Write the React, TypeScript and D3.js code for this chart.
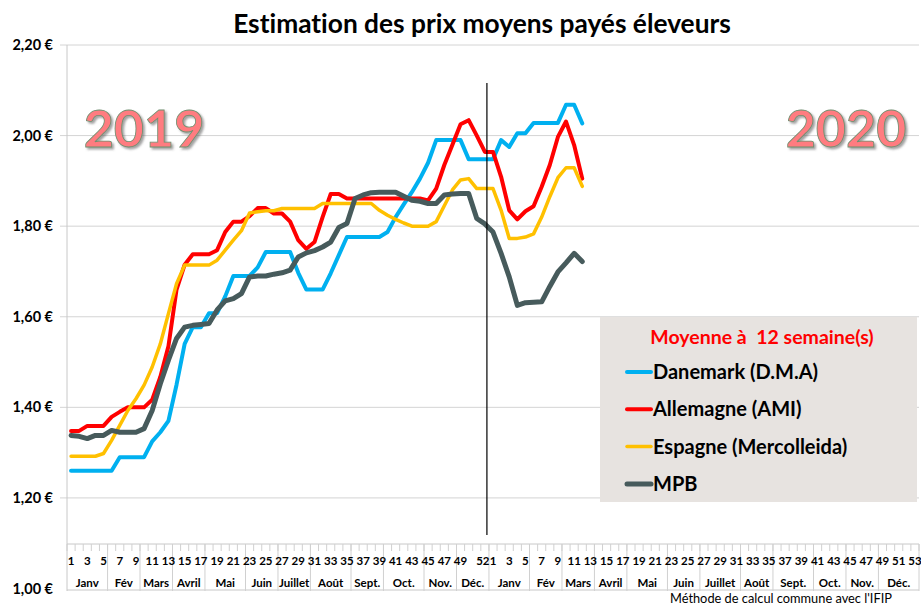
import React from "react";
import * as d3 from "d3";

const W = 921;
const H = 607;

const title = "Estimation des prix moyens payés éleveurs";
const legendTitle = "Moyenne à\u00a0 12 semaine(s)";
const yTicks = [1.0, 1.2, 1.4, 1.6, 1.8, 2.0, 2.2];

const weeks2019 = d3.range(1, 53);
const weeks2020 = d3.range(1, 54);

const weekLabels2019 = [1, 3, 5, 7, 9, 11, 13, 15, 17, 19, 21, 23, 25, 27, 29, 31, 33, 35, 37, 39, 41, 43, 45, 47, 49, 52];
const weekLabels2020 = [1, 3, 5, 7, 9, 11, 13, 15, 17, 19, 21, 23, 25, 27, 29, 31, 33, 35, 37, 39, 41, 43, 45, 47, 49, 51, 53];

const monthNames = ["Janv", "Fév", "Mars", "Avril", "Mai", "Juin", "Juillet", "Août", "Sept.", "Oct.", "Nov.", "Déc."];
// last week of each month
const monthEnds2019 = [5, 9, 13, 17, 22, 26, 30, 35, 39, 44, 48, 52];
const monthEnds2020 = [5, 9, 13, 17, 22, 26, 31, 35, 40, 44, 48, 53];

const danemark2019 = [1.26, 1.26, 1.26, 1.26, 1.26, 1.26, 1.29, 1.29, 1.29, 1.29, 1.325, 1.345, 1.37, 1.45, 1.54, 1.577, 1.577, 1.608, 1.608, 1.645, 1.69, 1.69, 1.69, 1.709, 1.743, 1.743, 1.743, 1.743, 1.697, 1.66, 1.66, 1.66, 1.696, 1.736, 1.776, 1.776, 1.776, 1.776, 1.776, 1.787, 1.82, 1.848, 1.875, 1.905, 1.94, 1.99, 1.99, 1.99, 1.99, 1.948, 1.948, 1.948];
const danemark2020 = [1.948, 1.99, 1.975, 2.005, 2.005, 2.028, 2.028, 2.028, 2.028, 2.068, 2.068, 2.027];

const allemagne2019 = [1.348, 1.348, 1.359, 1.359, 1.359, 1.379, 1.39, 1.4, 1.4, 1.4, 1.417, 1.467, 1.535, 1.66, 1.715, 1.738, 1.738, 1.738, 1.747, 1.787, 1.81, 1.81, 1.822, 1.84, 1.84, 1.828, 1.828, 1.81, 1.769, 1.75, 1.765, 1.82, 1.871, 1.871, 1.861, 1.861, 1.861, 1.861, 1.861, 1.861, 1.861, 1.861, 1.861, 1.861, 1.857, 1.883, 1.935, 1.98, 2.025, 2.034, 2.0, 1.964];
const allemagne2020 = [1.964, 1.909, 1.835, 1.815, 1.833, 1.844, 1.887, 1.935, 1.997, 2.031, 1.979, 1.905];

const espagne2019 = [1.292, 1.292, 1.292, 1.292, 1.298, 1.327, 1.36, 1.393, 1.419, 1.449, 1.489, 1.54, 1.607, 1.673, 1.714, 1.714, 1.714, 1.714, 1.725, 1.747, 1.769, 1.79, 1.829, 1.832, 1.834, 1.834, 1.839, 1.839, 1.839, 1.839, 1.839, 1.85, 1.85, 1.85, 1.85, 1.85, 1.85, 1.85, 1.835, 1.824, 1.815, 1.807, 1.8, 1.8, 1.8, 1.81, 1.845, 1.88, 1.902, 1.905, 1.883, 1.883];
const espagne2020 = [1.883, 1.835, 1.773, 1.773, 1.776, 1.783, 1.82, 1.865, 1.907, 1.929, 1.929, 1.888];

const mpb2019 = [1.338, 1.336, 1.331, 1.338, 1.338, 1.349, 1.345, 1.345, 1.345, 1.353, 1.393, 1.452, 1.504, 1.552, 1.577, 1.581, 1.583, 1.585, 1.615, 1.635, 1.64, 1.651, 1.688, 1.69, 1.69, 1.694, 1.697, 1.703, 1.732, 1.741, 1.746, 1.754, 1.765, 1.797, 1.806, 1.861, 1.869, 1.874, 1.875, 1.875, 1.875, 1.866, 1.857, 1.855, 1.85, 1.85, 1.869, 1.871, 1.872, 1.872, 1.817, 1.805];
const mpb2020 = [1.787, 1.74, 1.688, 1.625, 1.631, 1.632, 1.633, 1.667, 1.699, 1.719, 1.74, 1.722];

const seriesNames = ["Danemark (D.M.A)", "Allemagne (AMI)", "Espagne (Mercolleida)", "MPB"];
const seriesColors = ["#00b0f0", "#ff0000", "#ffc000", "#475b5c"];
const seriesWidths = [4, 4, 3.5, 5];
const seriesData = [
  [...danemark2019, ...danemark2020],
  [...allemagne2019, ...allemagne2020],
  [...espagne2019, ...espagne2020],
  [...mpb2019, ...mpb2020],
];

const FONT = "Lato, 'Open Sans', sans-serif";

export default function App() {
  const nCat = weeks2019.length + weeks2020.length;
  const x = d3.scaleBand<number>().domain(d3.range(nCat)).range([67, 919]).paddingInner(0).paddingOuter(0);
  const bw = x.bandwidth();
  const cx = (i: number) => (x(i) as number) + bw / 2;
  const y = d3.scaleLinear().domain([1.0, 2.2]).range([588.5, 45]);

  const line = d3
    .line<number>()
    .x((_, i) => cx(i))
    .y((d) => y(d))
    .curve(d3.curveLinear);

  const axisY = 544;
  const off2020 = weeks2019.length;

  const monthSegs: { name: string; start: number; end: number }[] = [];
  let prev = 0;
  monthEnds2019.forEach((e, i) => {
    monthSegs.push({ name: monthNames[i], start: prev, end: e });
    prev = e;
  });
  prev = 0;
  monthEnds2020.forEach((e, i) => {
    monthSegs.push({ name: monthNames[i], start: off2020 + prev, end: off2020 + e });
    prev = e;
  });

  const weekLabelItems = [
    ...weekLabels2019.map((w) => ({ w, i: w - 1 })),
    ...weekLabels2020.map((w) => ({ w, i: off2020 + w - 1 })),
  ];

  const sepX = (x(off2020 - 1) as number) + bw * 0.75;

  return (
    <svg
      width={W}
      height={H}
      style={{ position: "absolute", left: 0, top: 0, background: "#fff", fontVariantLigatures: "none" }}
      fontFamily={FONT}
    >
      <defs>
        <filter id="yearShadow" x="-20%" y="-20%" width="140%" height="140%">
          <feDropShadow dx={2} dy={2} stdDeviation={1} floodColor="#555" floodOpacity={0.55} />
        </filter>
      </defs>
      <rect x={0} y={0} width={W} height={H} fill="#fff" />
      {yTicks.filter((t) => t > 1.0).map((t) => (
        <line key={t} x1={60} x2={919} y1={y(t)} y2={y(t)} stroke="#d4d4d4" strokeWidth={1} />
      ))}
      <line x1={67} x2={67} y1={y(2.2)} y2={591} stroke="#c8c8c8" strokeWidth={1} />
      {yTicks.map((t) => (
        <text key={t} x={53} y={y(t)} dy="0.35em" textAnchor="end" fontSize={14.5} fontWeight={700} fill="#000">
          {d3.format(".2f")(t).replace(".", ",") + " €"}
        </text>
      ))}
      <line x1={67} x2={919} y1={axisY} y2={axisY} stroke="#c8c8c8" strokeWidth={1} />
      <line x1={67} x2={919} y1={590} y2={590} stroke="#c8c8c8" strokeWidth={1} />
      {d3.range(nCat + 1).map((i) => (
        <line key={"t" + i} x1={67 + i * bw} x2={67 + i * bw} y1={axisY} y2={axisY + 7} stroke="#d0d0d0" strokeWidth={1} />
      ))}
      {monthSegs.map((m, k) => (
        <line key={"m" + k} x1={67 + m.end * bw} x2={67 + m.end * bw} y1={axisY} y2={591} stroke="#d0d0d0" strokeWidth={1} />
      ))}
      {weekLabelItems.map((d, k) => (
        <text key={"w" + k} x={d.w === 52 ? cx(d.i) - 2 : cx(d.i)} y={561} dy="0.35em" textAnchor="middle" fontSize={11.5} fontWeight={700} fill="#000">
          {d.w}
        </text>
      ))}
      {monthSegs.map((m, k) => (
        <text key={"ml" + k} x={67 + ((m.start + m.end) / 2) * bw} y={583} dy="0.35em" textAnchor="middle" fontSize={11.5} fontWeight={700} fill="#000">
          {m.name}
        </text>
      ))}
      {seriesData.map((d, k) => (
        <path key={"s" + k} d={line(d) || ""} fill="none" stroke={seriesColors[k]} strokeWidth={seriesWidths[k]} strokeLinejoin="round" strokeLinecap="round" />
      ))}
      <line x1={sepX} x2={sepX} y1={83} y2={535} stroke="#000" strokeWidth={1.2} />
      <text x={482} y={33} textAnchor="middle" fontSize={26.3} fontWeight={700} fill="#000">
        {title}
      </text>
      {[
        { t: "2019", x: 144 },
        { t: "2020", x: 846 },
      ].map((d) => (
        <text key={d.t} x={d.x} y={147} textAnchor="middle" fontSize={52} fontWeight={700} fill="#ff7c80" stroke="#6f8f6f" strokeWidth={0.8} filter="url(#yearShadow)">
          {d.t}
        </text>
      ))}
      <rect x={600} y={317} width={317} height={185} fill="#e7e3e0" />
      <text x={762} y={337} dy="0.35em" textAnchor="middle" fontSize={19.5} fontWeight={700} fill="#ff0000">
        {legendTitle}
      </text>
      {seriesNames.map((n, k) => (
        <g key={n}>
          <line x1={627} x2={651} y1={372 + k * 37.3} y2={372 + k * 37.3} stroke={seriesColors[k]} strokeWidth={seriesWidths[k]} strokeLinecap="round" />
          <text x={653} y={372 + k * 37.3} dy="0.35em" fontSize={20} fontWeight={700} fill="#000">
            {n}
          </text>
        </g>
      ))}
      <text x={670} y={603} fontSize={12.8} fill="#000">
        Méthode de calcul commune avec l'IFIP
      </text>
    </svg>
  );
}
